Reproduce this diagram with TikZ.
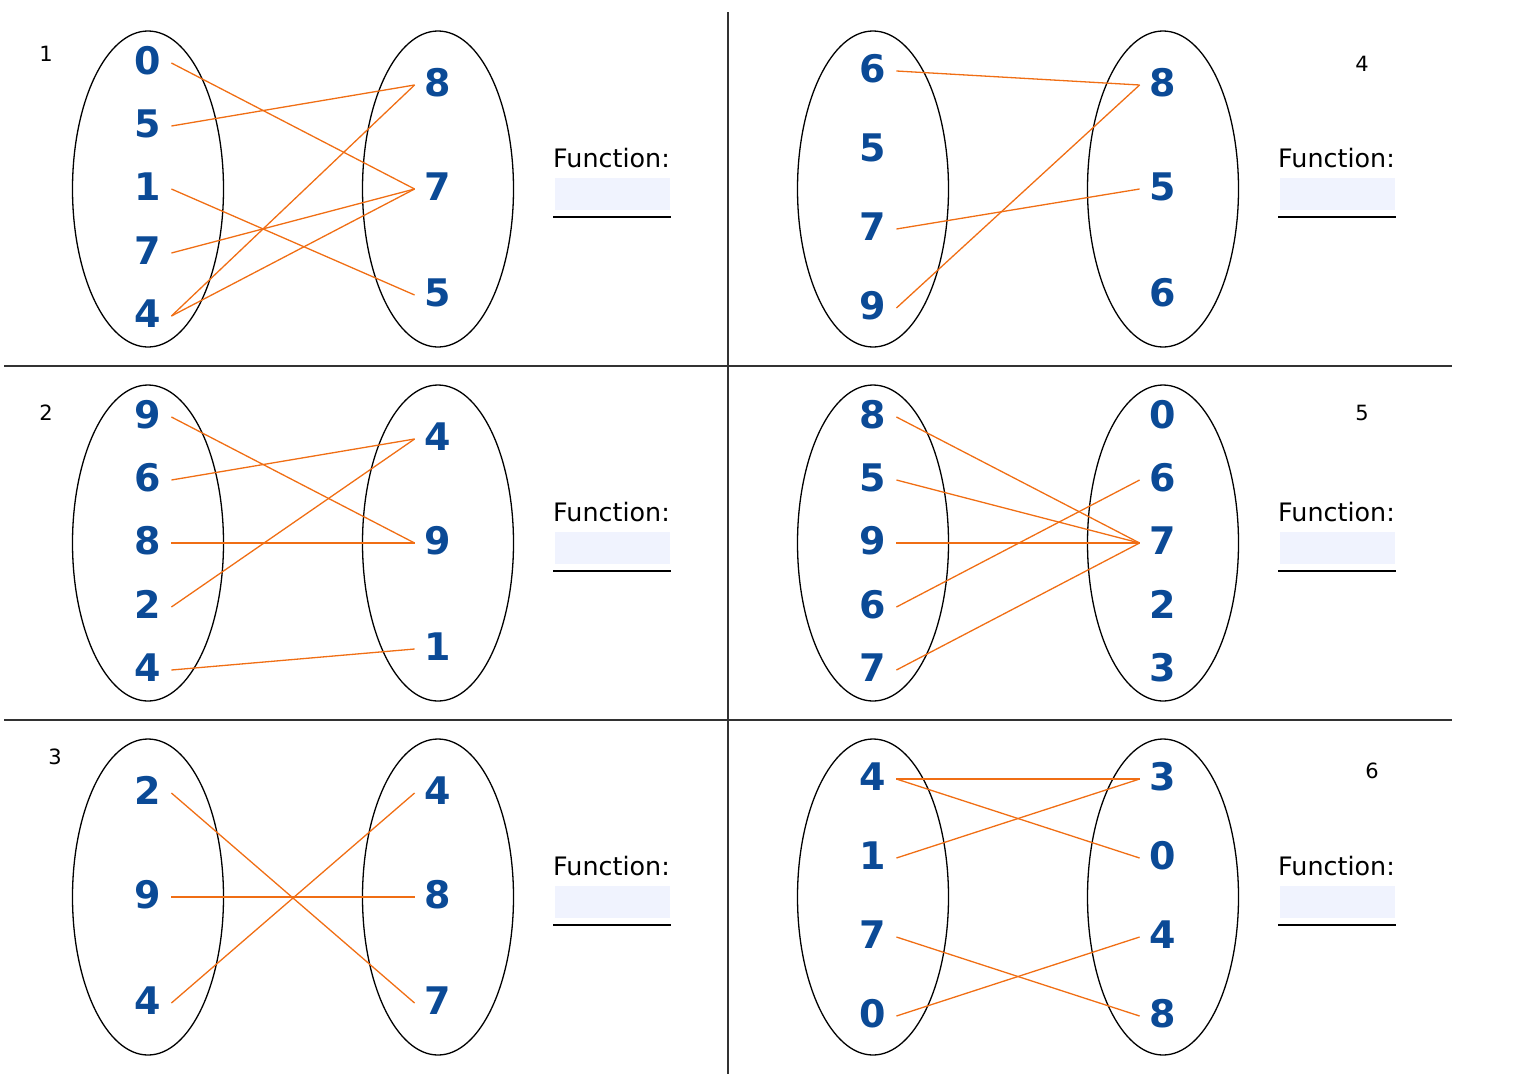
\documentclass[tikz,border=0pt]{standalone}
\usepackage{fontspec}
\setmainfont{DejaVu Sans}
\definecolor{numblue}{RGB}{11,74,150}
\definecolor{linkorange}{RGB}{240,110,20}
\definecolor{answerfill}{RGB}{240,243,254}
\definecolor{sepgray}{RGB}{50,50,50}
\begin{document}
\begin{tikzpicture}[x=1pt,y=-1pt,
  oval/.style={draw=black,line width=1.3pt},
  num/.style={font=\fontsize{38}{38}\selectfont\bfseries,text=numblue,
    inner xsep=10pt,inner ysep=0pt,text height=27pt,text depth=5pt},
  link/.style={draw=linkorange,line width=1.3pt},
  fnlabel/.style={font=\fontsize{25.4}{26}\selectfont,inner sep=0pt},
  answerbox/.style={fill=answerfill},
  answerrule/.style={draw=black,line width=2pt},
  sep/.style={draw=sepgray,line width=1.3pt},
  panelno/.style={font=\fontsize{21}{21}\selectfont,inner sep=0pt}]
\useasboundingbox (0,0) rectangle (1514,1074);

% separators
\draw[sep] (728,12) -- (728,1074);
\draw[sep] (4,366) -- (1452,366);
\draw[sep] (4,720) -- (1452,720);

% panel numbers
\node[panelno] (n1) at (46,54) {1};
\node[panelno] (n2) at (46,413) {2};
\node[panelno] (n3) at (55,757) {3};
\node[panelno] (n4) at (1362,64) {4};
\node[panelno] (n5) at (1362,413) {5};
\node[panelno] (n6) at (1372,771) {6};

% two ovals and the answer field of one panel
\newcommand\panelframe[1]{%
  \draw[oval] (148,189) ellipse [x radius=75.5,y radius=158];
  \draw[oval] (438,189) ellipse [x radius=75.5,y radius=158];
  \node[fnlabel,anchor=base west] (#1-fn) at (553,167) {Function:};
  \fill[answerbox] (555,178) rectangle (670,210);
  \draw[answerrule] (553,217) -- (671,217);
}

% panel 1
\begin{scope}[shift={(0,0)}]
  \panelframe{a}
  \foreach \d/\y [count=\i] in {0/63,5/126,1/189,7/253,4/316}
    \node[num] (a-l\i) at (148,\y) {\d};
  \foreach \d/\y [count=\i] in {8/85,7/189,5/295}
    \node[num] (a-r\i) at (438,\y) {\d};
  \foreach \p/\q in {1/2,2/1,3/3,4/2,5/1,5/2}
    \draw[link] (a-l\p.east) -- (a-r\q.west);
\end{scope}

% panel 2
\begin{scope}[shift={(0,354)}]
  \panelframe{b}
  \foreach \d/\y [count=\i] in {9/63,6/126,8/189,2/253,4/316}
    \node[num] (b-l\i) at (148,\y) {\d};
  \foreach \d/\y [count=\i] in {4/85,9/189,1/295}
    \node[num] (b-r\i) at (438,\y) {\d};
  \foreach \p/\q in {1/2,2/1,3/2,4/1,5/3}
    \draw[link] (b-l\p.east) -- (b-r\q.west);
\end{scope}

% panel 3
\begin{scope}[shift={(0,708)}]
  \panelframe{c}
  \foreach \d/\y [count=\i] in {2/85,9/189,4/295}
    \node[num] (c-l\i) at (148,\y) {\d};
  \foreach \d/\y [count=\i] in {4/85,8/189,7/295}
    \node[num] (c-r\i) at (438,\y) {\d};
  \foreach \p/\q in {1/3,2/2,3/1}
    \draw[link] (c-l\p.east) -- (c-r\q.west);
\end{scope}

% panel 4
\begin{scope}[shift={(725,0)}]
  \panelframe{d}
  \foreach \d/\y [count=\i] in {6/71,5/150,7/229,9/308}
    \node[num] (d-l\i) at (148,\y) {\d};
  \foreach \d/\y [count=\i] in {8/85,5/189,6/295}
    \node[num] (d-r\i) at (438,\y) {\d};
  \foreach \p/\q in {1/1,3/2,4/1}
    \draw[link] (d-l\p.east) -- (d-r\q.west);
\end{scope}

% panel 5
\begin{scope}[shift={(725,354)}]
  \panelframe{e}
  \foreach \d/\y [count=\i] in {8/63,5/126,9/189,6/253,7/316}
    \node[num] (e-l\i) at (148,\y) {\d};
  \foreach \d/\y [count=\i] in {0/63,6/126,7/189,2/253,3/316}
    \node[num] (e-r\i) at (438,\y) {\d};
  \foreach \p/\q in {1/3,2/3,3/3,4/2,5/3}
    \draw[link] (e-l\p.east) -- (e-r\q.west);
\end{scope}

% panel 6
\begin{scope}[shift={(725,708)}]
  \panelframe{f}
  \foreach \d/\y [count=\i] in {4/71,1/150,7/229,0/308}
    \node[num] (f-l\i) at (148,\y) {\d};
  \foreach \d/\y [count=\i] in {3/71,0/150,4/229,8/308}
    \node[num] (f-r\i) at (438,\y) {\d};
  \foreach \p/\q in {1/1,1/2,2/1,3/4,4/3}
    \draw[link] (f-l\p.east) -- (f-r\q.west);
\end{scope}
\end{tikzpicture}
\end{document}
